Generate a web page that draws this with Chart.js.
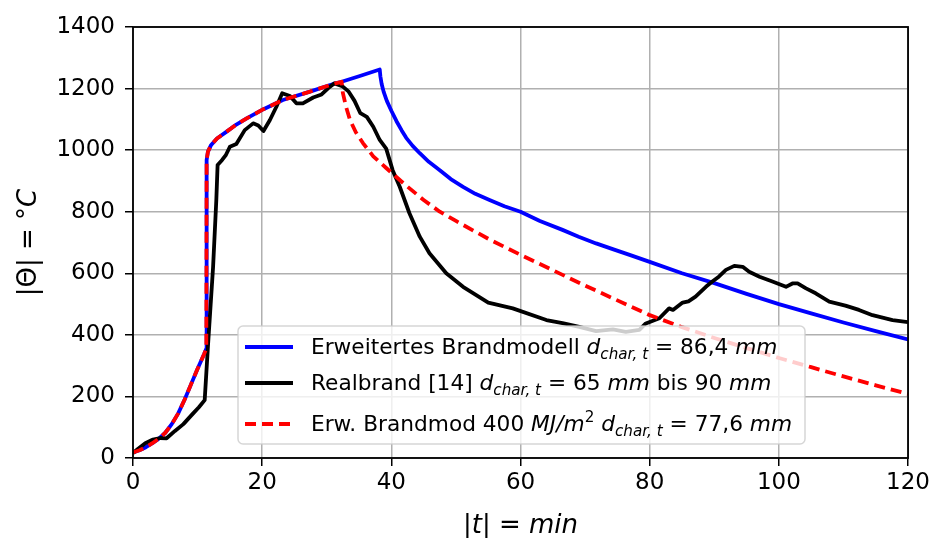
<!DOCTYPE html>
<html>
<head>
<meta charset="utf-8">
<script src="https://cdn.jsdelivr.net/npm/chart.js@4/dist/chart.umd.min.js"></script>
<style>
  html, body { margin: 0; padding: 0; background: #fff; }
  #wrap { width: 933px; height: 538px; }
</style>
</head>
<body>
<div id="wrap"><canvas id="myChart" width="933" height="538"></canvas></div>
<script>
// time axis (min) and temperatures (°C)
var blueTime = [0, 1, 2, 3, 4, 5, 6, 7, 8, 9, 10, 11, 11.35, 11.4, 11.6, 12.1, 13, 14.5, 16, 17.6, 20.2, 23.2, 27.4, 31, 32.3, 35, 38.2,
    38.3, 38.5, 38.8, 39.3, 40, 40.8, 41.6, 42.3, 43.3, 44.4, 45.8, 47.5, 49.2, 51.1, 53, 55.2, 57.5, 60, 63, 66.5, 69, 71.7,
    74.5, 77, 80, 85, 90, 95, 100, 105, 110, 115, 120];
var blueTemp = [18, 25, 35, 48, 63, 82, 110, 145, 190, 240, 290, 337, 355, 968, 995, 1017, 1038, 1060, 1083, 1103, 1133, 1163, 1190, 1215, 1222, 1240, 1262,
    1240, 1215, 1190, 1160, 1128, 1094, 1064, 1040, 1014, 990, 962, 935, 906, 881, 858, 838, 818, 800, 770, 741, 719, 697,
    677, 659, 637, 600, 568, 533, 500, 470, 440, 412, 385];

var realTime = [0, 0.8, 1.9, 3.1, 4.2, 5.2, 6.5, 7.8, 9.1, 10.2, 11.1, 11.6, 12.4, 12.9, 13.1, 13.8, 14.4, 15, 16, 17.3, 18.6, 19.4, 20.2,
    21.2, 22.2, 23.1, 24.3, 25.3, 26.3, 27.9, 29.2, 30.2, 31.2, 32.4, 33.4, 34.3, 35.2, 36.2, 37.2, 38.2, 39.2, 40.2, 41.3, 42.8,
    44.4, 45.9, 48.5, 51.1, 55, 58.8, 64, 66.5, 69.1, 71.7, 74.3, 76.3, 78.4, 79.4, 81.5, 83, 83.6, 85.1, 86, 87.1, 88.7, 89.7,
    90.7, 91.8, 93.1, 94.4, 95.4, 97, 99, 101.1, 102.1, 102.9, 104.2, 105.7, 107.8, 110.3, 112.4, 114.5, 117.6, 120];
var realTemp = [16, 30, 48, 60, 65, 64, 88, 110, 140, 165, 188, 362, 621, 838, 952, 968, 985, 1011, 1020, 1065, 1087, 1080, 1062,
    1098, 1141, 1185, 1176, 1152, 1152, 1171, 1181, 1201, 1217, 1208, 1190, 1160, 1120, 1108, 1076, 1033, 1005, 935, 881, 795,
    719, 665, 600, 556, 505, 486, 448, 438, 426, 412, 418, 410, 416, 437, 454, 486, 481, 505, 509, 524, 556, 573,
    589, 611, 624, 621, 605, 589, 573, 556, 567, 567, 551, 535, 508, 495, 481, 464, 448, 441];

var redTime = [0, 1, 2, 3, 4, 5, 6, 7, 8, 9, 10, 11, 11.35, 11.4, 11.6, 12.1, 13, 14.5, 16, 17.6, 20.2, 23.2, 27.4, 31, 32.3,
    32.5, 33, 33.6, 34.5, 35.6, 37.2, 39.2, 42, 45, 47.5, 50, 55, 60, 65, 70, 75, 80, 85, 90, 95, 100, 105, 110, 115, 120];
var redTemp = [18, 25, 35, 48, 63, 82, 110, 145, 190, 240, 290, 337, 355, 968, 995, 1017, 1038, 1060, 1083, 1103, 1133, 1163, 1190, 1215, 1222,
    1185, 1140, 1098, 1058, 1023, 980, 942, 890, 838, 800, 770, 712, 660, 610, 560, 512, 464, 425, 390, 357, 325, 295, 265, 236, 208];

var xTicks = [0, 20, 40, 60, 80, 100, 120];
var yTicks = [0, 200, 400, 600, 800, 1000, 1200, 1400];

function pts(xs, ys) {
    return xs.map(function (x, i) { return { x: x, y: ys[i] }; });
}

var FONT = '"DejaVu Sans", sans-serif';

// draws text made of pieces: {t, it, sub, sup}
function richWidth(ctx, segs, size) {
    var w = 0;
    segs.forEach(function (s) {
        var fs = (s.sub || s.sup) ? size * 0.7 : size;
        ctx.font = (s.it ? 'italic ' : '') + fs + 'px ' + FONT;
        w += ctx.measureText(s.t).width;
    });
    return w;
}
function drawRich(ctx, segs, x, y, size) {
    ctx.textBaseline = 'alphabetic';
    ctx.textAlign = 'left';
    segs.forEach(function (s) {
        var fs = (s.sub || s.sup) ? size * 0.7 : size;
        var dy = s.sub ? size * 0.22 : (s.sup ? -size * 0.42 : 0);
        ctx.font = (s.it ? 'italic ' : '') + fs + 'px ' + FONT;
        ctx.fillText(s.t, x, y + dy);
        x += ctx.measureText(s.t).width;
    });
}

var dChar = [{ t: 'd', it: true }, { t: 'char, t', it: true, sub: true }];
var legendItems = [
    { color: 'blue', dash: [], segs: [{ t: 'Erweitertes Brandmodell ' }].concat(dChar, [{ t: ' = 86,4 ' }, { t: 'mm', it: true }]) },
    { color: 'black', dash: [], segs: [{ t: 'Realbrand [14] ' }].concat(dChar, [{ t: ' = 65 ' }, { t: 'mm', it: true }, { t: ' bis 90 ' }, { t: 'mm', it: true }]) },
    { color: 'red', dash: [11, 6], segs: [{ t: 'Erw. Brandmod 400 ' }, { t: 'MJ/m', it: true }, { t: '2', sup: true }, { t: ' ' }].concat(dChar, [{ t: ' = 77,6 ' }, { t: 'mm', it: true }]) }
];

var decor = {
    id: 'decor',
    afterDatasetsDraw: function (chart) {
        var ctx = chart.ctx, a = chart.chartArea;
        ctx.save();
        ctx.strokeStyle = 'black';
        ctx.lineWidth = 1.8;
        ctx.strokeRect(a.left, a.top, a.right - a.left, a.bottom - a.top);
        ctx.restore();
    },
    afterDraw: function (chart) {
        var ctx = chart.ctx, a = chart.chartArea;
        ctx.save();
        // legend box
        var bx = 238, by = 326, bw = 567, bh = 118, r = 5;
        ctx.beginPath();
        ctx.moveTo(bx + r, by);
        ctx.arcTo(bx + bw, by, bx + bw, by + bh, r);
        ctx.arcTo(bx + bw, by + bh, bx, by + bh, r);
        ctx.arcTo(bx, by + bh, bx, by, r);
        ctx.arcTo(bx, by, bx + bw, by, r);
        ctx.closePath();
        ctx.fillStyle = 'rgba(255,255,255,0.8)';
        ctx.fill();
        ctx.strokeStyle = 'rgba(204,204,204,0.8)';
        ctx.lineWidth = 1.5;
        ctx.stroke();
        var rows = [347, 383, 424];
        legendItems.forEach(function (it, i) {
            ctx.strokeStyle = it.color;
            ctx.lineWidth = 3.8;
            ctx.setLineDash(it.dash);
            ctx.beginPath();
            ctx.moveTo(245, rows[i]);
            ctx.lineTo(293, rows[i]);
            ctx.stroke();
            ctx.setLineDash([]);
            ctx.fillStyle = 'black';
            drawRich(ctx, it.segs, 311, rows[i] + 7, 21.7);
        });
        // axis titles
        ctx.fillStyle = 'black';
        var xt = [{ t: '|' }, { t: 't', it: true }, { t: '| = ' }, { t: 'min', it: true }];
        var w = richWidth(ctx, xt, 26);
        drawRich(ctx, xt, (a.left + a.right) / 2 - w / 2, 533, 26);
        var yt = [{ t: '|Θ| = °' }, { t: 'C', it: true }];
        w = richWidth(ctx, yt, 26);
        ctx.translate(36, (a.top + a.bottom) / 2);
        ctx.rotate(-Math.PI / 2);
        drawRich(ctx, yt, -w / 2, 0, 26);
        ctx.restore();
    }
};

var ctx = document.getElementById('myChart').getContext('2d');
var myChart = new Chart(ctx, {
    type: 'line',
    data: {
        datasets: [{
            label: 'Erweitertes Brandmodell',
            data: pts(blueTime, blueTemp),
            borderColor: 'blue',
            borderWidth: 3.8,
            order: 3
        }, {
            label: 'Realbrand [14]',
            data: pts(realTime, realTemp),
            borderColor: 'black',
            borderWidth: 3.8,
            order: 2
        }, {
            label: 'Erw. Brandmod 400',
            data: pts(redTime, redTemp),
            borderColor: 'red',
            borderWidth: 3.8,
            borderDash: [11, 6],
            order: 1
        }]
    },
    options: {
        responsive: false,
        animation: false,
        events: [],
        elements: { point: { radius: 0 }, line: { tension: 0, borderJoinStyle: 'round' } },
        layout: { padding: { top: 27, right: 24, left: 0, bottom: 0 } },
        plugins: { legend: { display: false }, tooltip: { enabled: false } },
        scales: {
            x: {
                type: 'linear', min: 0, max: 120,
                afterBuildTicks: function (s) { s.ticks = xTicks.map(function (v) { return { value: v }; }); },
                afterFit: function (s) { s.height = 80; },
                ticks: { color: 'black', font: { family: FONT, size: 23 }, padding: 3, maxRotation: 0,
                    callback: function (v) { return String(v); } },
                grid: { color: '#b0b0b0', lineWidth: 1.5, tickColor: 'black', tickLength: 8, tickWidth: 1.5 },
                border: { display: false }
            },
            y: {
                type: 'linear', min: 0, max: 1400,
                afterBuildTicks: function (s) { s.ticks = yTicks.map(function (v) { return { value: v }; }); },
                afterFit: function (s) { s.width = 133; },
                ticks: { color: 'black', font: { family: FONT, size: 23 }, padding: 10,
                    callback: function (v) { return String(v); } },
                grid: { color: '#b0b0b0', lineWidth: 1.5, tickColor: 'black', tickLength: 8, tickWidth: 1.5 },
                border: { display: false }
            }
        }
    },
    plugins: [decor]
});
</script>
</body>
</html>
